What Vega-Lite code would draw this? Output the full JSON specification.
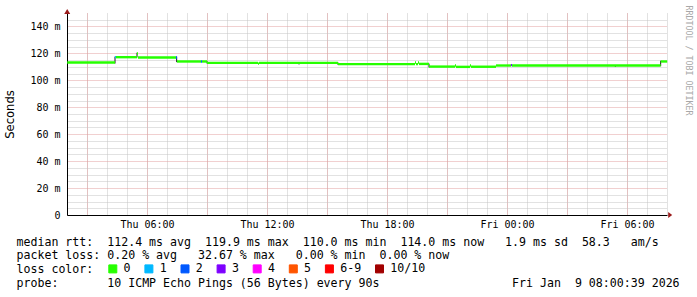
{
  "$schema": "https://vega.github.io/schema/vega-lite/v6.json",
  "width": 600,
  "height": 202,
  "autosize": "none",
  "padding": {"left": 67, "top": 13, "right": 30, "bottom": 82},
  "background": "white",
  "config": {"view": {"stroke": null}, "font": "DejaVu Sans Mono"},
  "datasets": {
    "median": [
      {"start": "2026-01-08T02:00:39", "end": "2026-01-08T04:24:00", "rtt": 113.2, "loss": "0"},
      {"start": "2026-01-08T04:24:00", "end": "2026-01-08T04:27:00", "rtt": 117.2, "loss": "1"},
      {"start": "2026-01-08T04:27:00", "end": "2026-01-08T05:30:00", "rtt": 117.2, "loss": "0"},
      {"start": "2026-01-08T05:30:00", "end": "2026-01-08T05:33:00", "rtt": 119.9, "loss": "0"},
      {"start": "2026-01-08T05:33:00", "end": "2026-01-08T07:27:00", "rtt": 117.0, "loss": "0"},
      {"start": "2026-01-08T07:27:00", "end": "2026-01-08T07:30:00", "rtt": 117.0, "loss": "2"},
      {"start": "2026-01-08T07:30:00", "end": "2026-01-08T08:42:00", "rtt": 114.0, "loss": "0"},
      {"start": "2026-01-08T08:42:00", "end": "2026-01-08T08:45:00", "rtt": 114.0, "loss": "2"},
      {"start": "2026-01-08T08:45:00", "end": "2026-01-08T09:00:00", "rtt": 114.0, "loss": "0"},
      {"start": "2026-01-08T09:00:00", "end": "2026-01-08T11:33:00", "rtt": 113.0, "loss": "0"},
      {"start": "2026-01-08T11:33:00", "end": "2026-01-08T11:36:00", "rtt": 112.4, "loss": "0"},
      {"start": "2026-01-08T11:36:00", "end": "2026-01-08T15:33:00", "rtt": 113.0, "loss": "0"},
      {"start": "2026-01-08T15:33:00", "end": "2026-01-08T19:24:00", "rtt": 112.0, "loss": "0"},
      {"start": "2026-01-08T19:24:00", "end": "2026-01-08T19:27:00", "rtt": 113.2, "loss": "0"},
      {"start": "2026-01-08T19:27:00", "end": "2026-01-08T19:33:00", "rtt": 112.0, "loss": "0"},
      {"start": "2026-01-08T19:33:00", "end": "2026-01-08T19:36:00", "rtt": 113.2, "loss": "0"},
      {"start": "2026-01-08T19:36:00", "end": "2026-01-08T20:06:00", "rtt": 112.2, "loss": "0"},
      {"start": "2026-01-08T20:06:00", "end": "2026-01-08T21:24:00", "rtt": 110.2, "loss": "0"},
      {"start": "2026-01-08T21:24:00", "end": "2026-01-08T21:27:00", "rtt": 111.0, "loss": "0"},
      {"start": "2026-01-08T21:27:00", "end": "2026-01-08T22:09:00", "rtt": 110.0, "loss": "0"},
      {"start": "2026-01-08T22:09:00", "end": "2026-01-08T22:12:00", "rtt": 111.0, "loss": "0"},
      {"start": "2026-01-08T22:12:00", "end": "2026-01-08T23:27:00", "rtt": 110.1, "loss": "0"},
      {"start": "2026-01-08T23:27:00", "end": "2026-01-09T00:12:00", "rtt": 111.0, "loss": "0"},
      {"start": "2026-01-09T00:12:00", "end": "2026-01-09T00:15:00", "rtt": 111.3, "loss": "3"},
      {"start": "2026-01-09T00:15:00", "end": "2026-01-09T07:41:00", "rtt": 111.0, "loss": "0"},
      {"start": "2026-01-09T07:41:00", "end": "2026-01-09T08:00:39", "rtt": 114.0, "loss": "0"}
    ],
    "smoke": [
      {"t": "2026-01-08T04:24:00", "lo": 112.5, "hi": 117.6},
      {"t": "2026-01-08T05:30:00", "lo": 117.0, "hi": 120.5},
      {"t": "2026-01-08T07:29:00", "lo": 113.5, "hi": 117.6},
      {"t": "2026-01-08T09:00:00", "lo": 112.5, "hi": 114.2},
      {"t": "2026-01-08T13:36:00", "lo": 111.8, "hi": 113.0},
      {"t": "2026-01-08T15:33:00", "lo": 111.5, "hi": 113.2},
      {"t": "2026-01-08T20:06:00", "lo": 109.6, "hi": 112.4},
      {"t": "2026-01-09T05:25:00", "lo": 110.0, "hi": 111.2},
      {"t": "2026-01-09T07:41:00", "lo": 110.5, "hi": 114.5}
    ]
  },
  "layer": [
    {
      "data": {"name": "smoke"},
      "mark": {"type": "rule", "strokeWidth": 1, "color": "#1a1a1a"},
      "encoding": {
        "x": {
          "field": "t", "type": "temporal",
          "scale": {"domain": [{"year": 2026, "month": 1, "date": 8, "hours": 2, "minutes": 0, "seconds": 0}, {"year": 2026, "month": 1, "date": 9, "hours": 8, "minutes": 0, "seconds": 0}]},
          "axis": {"orient": "bottom", "tickCount": 30, "grid": true, "gridColor": "#c4c4c4", "gridDash": [1, 1], "gridWidth": 1, "domain": false, "ticks": false, "labels": false, "title": null}
        },
        "y": {
          "field": "lo", "type": "quantitative",
          "scale": {"domain": [0, 150], "nice": false, "zero": true},
          "axis": {"orient": "left", "values": [5, 10, 15, 25, 30, 35, 45, 50, 55, 65, 70, 75, 85, 90, 95, 105, 110, 115, 125, 130, 135, 145], "grid": true, "gridColor": "#c4c4c4", "gridDash": [1, 1], "gridWidth": 1, "domain": false, "ticks": false, "labels": false, "title": null}
        },
        "y2": {"field": "hi"}
      }
    },
    {
      "data": {"name": "median"},
      "mark": {"type": "rule", "strokeWidth": 2.4, "strokeCap": "butt"},
      "encoding": {
        "x": {
          "field": "start", "type": "temporal",
          "axis": {
            "orient": "bottom", "tickCount": 10,
            "grid": true, "gridColor": "#e2a0a0", "gridDash": [1, 1], "gridWidth": 1,
            "domain": true, "domainColor": "#000000", "domainWidth": 1,
            "ticks": false, "tickSize": 0,
            "labelExpr": "hours(datum.value) % 6 == 0 ? timeFormat(datum.value, '%a %H:%M') : ''",
            "labelFont": "DejaVu Sans Mono", "labelFontSize": 10, "labelColor": "#000000",
            "labelPadding": 4, "labelFlush": false, "labelOverlap": false, "labelBound": false,
            "title": [
              "median\u00a0rtt:\u00a0\u00a0112.4\u00a0ms\u00a0avg\u00a0\u00a0119.9\u00a0ms\u00a0max\u00a0\u00a0110.0\u00a0ms\u00a0min\u00a0\u00a0114.0\u00a0ms\u00a0now\u00a0\u00a0\u00a01.9\u00a0ms\u00a0sd\u00a0\u00a058.3\u00a0\u00a0\u00a0am/s",
              "packet\u00a0loss:\u00a00.20\u00a0%\u00a0avg\u00a0\u00a0\u00a032.67\u00a0%\u00a0max\u00a0\u00a0\u00a00.00\u00a0%\u00a0min\u00a0\u00a00.00\u00a0%\u00a0now",
              "loss\u00a0color:",
              "probe:\u00a0\u00a0\u00a0\u00a0\u00a0\u00a0\u00a010\u00a0ICMP\u00a0Echo\u00a0Pings\u00a0(56\u00a0Bytes)\u00a0every\u00a090s\u00a0\u00a0\u00a0\u00a0\u00a0\u00a0\u00a0\u00a0\u00a0\u00a0\u00a0\u00a0\u00a0\u00a0\u00a0\u00a0\u00a0\u00a0\u00a0Fri\u00a0Jan\u00a0\u00a09\u00a008:00:39\u00a02026"
            ],
            "titleFont": "DejaVu Sans Mono", "titleFontSize": 11.6, "titleFontWeight": "normal", "titleColor": "#000000",
            "titleAnchor": "start", "titleAlign": "left", "titleBaseline": "top",
            "titleX": -51, "titleY": 21, "titleLineHeight": 13.7
          }
        },
        "x2": {"field": "end"},
        "y": {
          "field": "rtt", "type": "quantitative",
          "axis": {
            "orient": "left", "values": [0, 20, 40, 60, 80, 100, 120, 140],
            "grid": true, "gridColor": "#e2a0a0", "gridDash": [1, 1], "gridWidth": 1,
            "domain": true, "domainColor": "#000000", "domainWidth": 1,
            "ticks": false, "tickSize": 0,
            "labelExpr": "datum.value == 0 ? '0\u00a0\u00a0' : datum.value + '\u00a0m'",
            "labelFont": "DejaVu Sans Mono", "labelFontSize": 10, "labelColor": "#000000",
            "labelPadding": 7, "labelBaseline": "middle", "labelFlush": false, "labelOverlap": false,
            "title": "Seconds", "titleFont": "DejaVu Sans", "titleFontSize": 11.6, "titleFontWeight": "normal", "titleColor": "#000000",
            "titleAngle": 270, "titleX": -57, "titleY": 101, "titleAlign": "center", "titleBaseline": "middle"
          }
        },
        "color": {
          "field": "loss", "type": "nominal",
          "scale": {"domain": ["0", "1", "2", "3", "4", "5", "6-9", "10/10"], "range": ["#26ff00", "#00b8ff", "#0059ff", "#7e00ff", "#ff00ff", "#ff5500", "#ff0000", "#a10000"]},
          "legend": {
            "orient": "none", "legendX": 40, "legendY": 250, "direction": "horizontal", "title": null,
            "labelFont": "DejaVu Sans Mono", "labelFontSize": 11.6, "labelColor": "#000000",
            "labelOffset": 5, "columnPadding": 11.1, "padding": 0,
            "symbolType": "square", "symbolSize": 64, "symbolStrokeColor": "#000000", "symbolStrokeWidth": 1, "symbolOpacity": 1,
            "encode": {"symbols": {"update": {"fill": {"scale": "color", "field": "value"}, "fillOpacity": {"value": 1}, "stroke": {"value": "#000000"}, "strokeWidth": {"value": 1}}}}
          }
        }
      }
    },
    {
      "data": {"name": "median"},
      "mark": {"type": "point", "opacity": 0},
      "encoding": {
        "x": {"field": "start", "type": "temporal", "axis": null},
        "y": {
          "field": "rtt", "type": "quantitative",
          "axis": {"orient": "right", "grid": false, "domain": false, "ticks": false, "labels": false,
            "title": "RRDTOOL / TOBI OETIKER", "titleFont": "DejaVu Sans Mono", "titleFontSize": 8.3, "titleFontWeight": "normal", "titleColor": "#a8a8a8",
            "titleAngle": 90, "titleX": 20, "titleY": 47, "titleAlign": "center", "titleBaseline": "middle"}
        }
      }
    },
    {
      "data": {"name": "median"},
      "mark": {"type": "point", "shape": "M-1.2,0.4L1.2,0.4L0,-1.6Z", "size": 25, "filled": true, "color": "#9b1c1c", "opacity": 1, "strokeWidth": 0},
      "encoding": {
        "x": {"aggregate": "min", "field": "start", "type": "temporal", "axis": null},
        "y": {"datum": 150, "type": "quantitative", "axis": null}
      }
    },
    {
      "data": {"name": "median"},
      "mark": {"type": "point", "shape": "M0.4,-1.2L0.4,1.2L2,0Z", "size": 25, "filled": true, "color": "#9b1c1c", "opacity": 1, "strokeWidth": 0},
      "encoding": {
        "x": {"aggregate": "max", "field": "end", "type": "temporal", "axis": null},
        "y": {"datum": 0, "type": "quantitative", "axis": null}
      }
    }
  ],
  "resolve": {"axis": {"x": "independent", "y": "independent"}}
}
